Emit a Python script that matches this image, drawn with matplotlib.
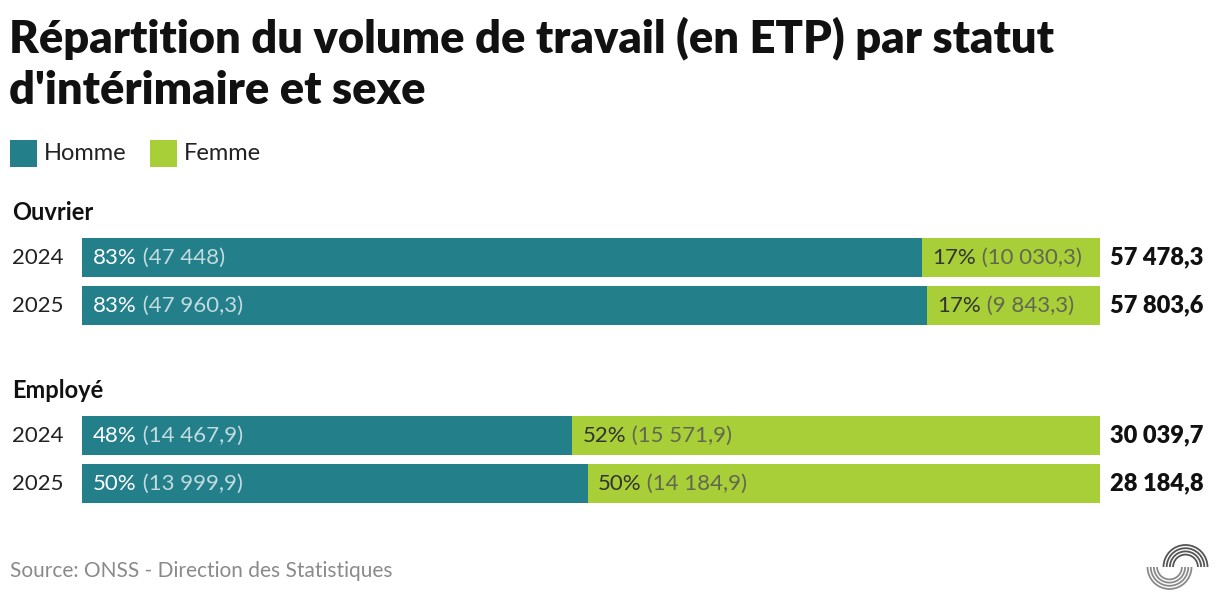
import matplotlib
matplotlib.use("Agg")
import matplotlib.pyplot as plt
from matplotlib.patches import Arc, Rectangle

# ---- data ----
groups = ["Ouvrier", "Employé"]
years = ["2024", "2025"]
homme = {"Ouvrier": [47448.0, 47960.3], "Employé": [14467.9, 13999.9]}
femme = {"Ouvrier": [10030.3, 9843.3], "Employé": [15571.9, 14184.9]}
totals = {"Ouvrier": [57478.3, 57803.6], "Employé": [30039.7, 28184.8]}
series_names = ["Homme", "Femme"]
colors = ["#237F8A", "#A8CE38"]

title = "Répartition du volume de travail (en ETP) par statut\nd'intérimaire et sexe"
source = "Source: ONSS - Direction des Statistiques"

W, H = 1220, 610
FONT = "Lato"
plt.rcParams["font.family"] = [FONT, "DejaVu Sans"]

def fmt(v):
    if abs(v - round(v)) < 1e-9:
        s = f"{int(round(v)):,}".replace(",", " ")
    else:
        s = f"{v:,.1f}".replace(",", " ").replace(".", ",")
    return s

fig = plt.figure(figsize=(W / 100, H / 100), dpi=100)
fig.patch.set_facecolor("white")

def fx(x):
    return x / W

def fy(y):
    return 1 - y / H

# title
fig.text(fx(9), fy(38), title.split("\n")[0], fontsize=32.6, fontweight="heavy", color="#111111",
         va="center", ha="left")
fig.text(fx(9), fy(90), title.split("\n")[1], fontsize=32.6, fontweight="heavy", color="#111111",
         va="center", ha="left")

# legend
lx = 10
for name, col in zip(series_names, colors):
    fig.patches.append(Rectangle((fx(lx), fy(167)), 27 / W, 27 / H, transform=fig.transFigure,
                                 facecolor=col, edgecolor="none"))
    fig.text(fx(lx + 34), fy(153), name, fontsize=17, color="#222222", va="center", ha="left")
    lx += 140

# bar axes: x in percent share, y in pixel rows
bar_left, bar_right = 82, 1100
ax = fig.add_axes([fx(bar_left), 0, (bar_right - bar_left) / W, 1])
ax.set_xlim(0, 100)
ax.set_ylim(H, 0)
ax.axis("off")

group_label_y = {"Ouvrier": 212, "Employé": 390}
row_y = {"Ouvrier": [257.5, 305.5], "Employé": [435.5, 483.5]}
bar_h = 39
fs = 16

for g in groups:
    fig.text(fx(12), fy(group_label_y[g]), g, fontsize=17, fontweight="bold",
             color="#111111", va="center", ha="left")
    for i, yr in enumerate(years):
        h = homme[g][i]
        f = femme[g][i]
        tot = totals[g][i]
        ph = h / (h + f) * 100
        pf = f / (h + f) * 100
        y = row_y[g][i]
        ax.barh(y, ph, left=0, height=bar_h, color=colors[0], edgecolor="none")
        ax.barh(y, pf, left=ph, height=bar_h, color=colors[1], edgecolor="none")
        fig.text(fx(12), fy(y), yr, fontsize=fs, color="#222222", va="center", ha="left")
        # Homme label
        t1 = ax.text(1.1, y, f"{round(ph)}%", fontsize=fs, color="white", va="center", ha="left")
        ax.annotate(f" ({fmt(h)})", xy=(1, 0), xycoords=t1, va="bottom", ha="left",
                    fontsize=fs, color="white", alpha=0.72)
        # Femme label
        t2 = ax.text(ph + 1.0, y, f"{round(pf)}%", fontsize=fs, color="#333333", va="center", ha="left")
        ax.annotate(f" ({fmt(f)})", xy=(1, 0), xycoords=t2, va="bottom", ha="left",
                    fontsize=fs, color="#555555", alpha=0.85)
        # total
        fig.text(fx(1110), fy(y), fmt(tot), fontsize=17, fontweight="heavy",
                 color="#111111", va="center", ha="left")

# source
fig.text(fx(10), fy(571), source, fontsize=15, color="#8a8a8a", va="center", ha="left")

# logo (decorative arcs)
for k in range(4):
    r = 2 * (22 - 3.2 * k)
    fig.patches.append(Arc((fx(1185.5), fy(567)), r / W, r / H, theta1=0, theta2=180,
                           transform=fig.transFigure, color="#555555", lw=1.3))
    fig.patches.append(Arc((fx(1169.5), fy(567)), r / W, r / H, theta1=180, theta2=360,
                           transform=fig.transFigure, color="#8a8a8a", lw=1.3))

fig.savefig("out.png", dpi=100, facecolor="white")
